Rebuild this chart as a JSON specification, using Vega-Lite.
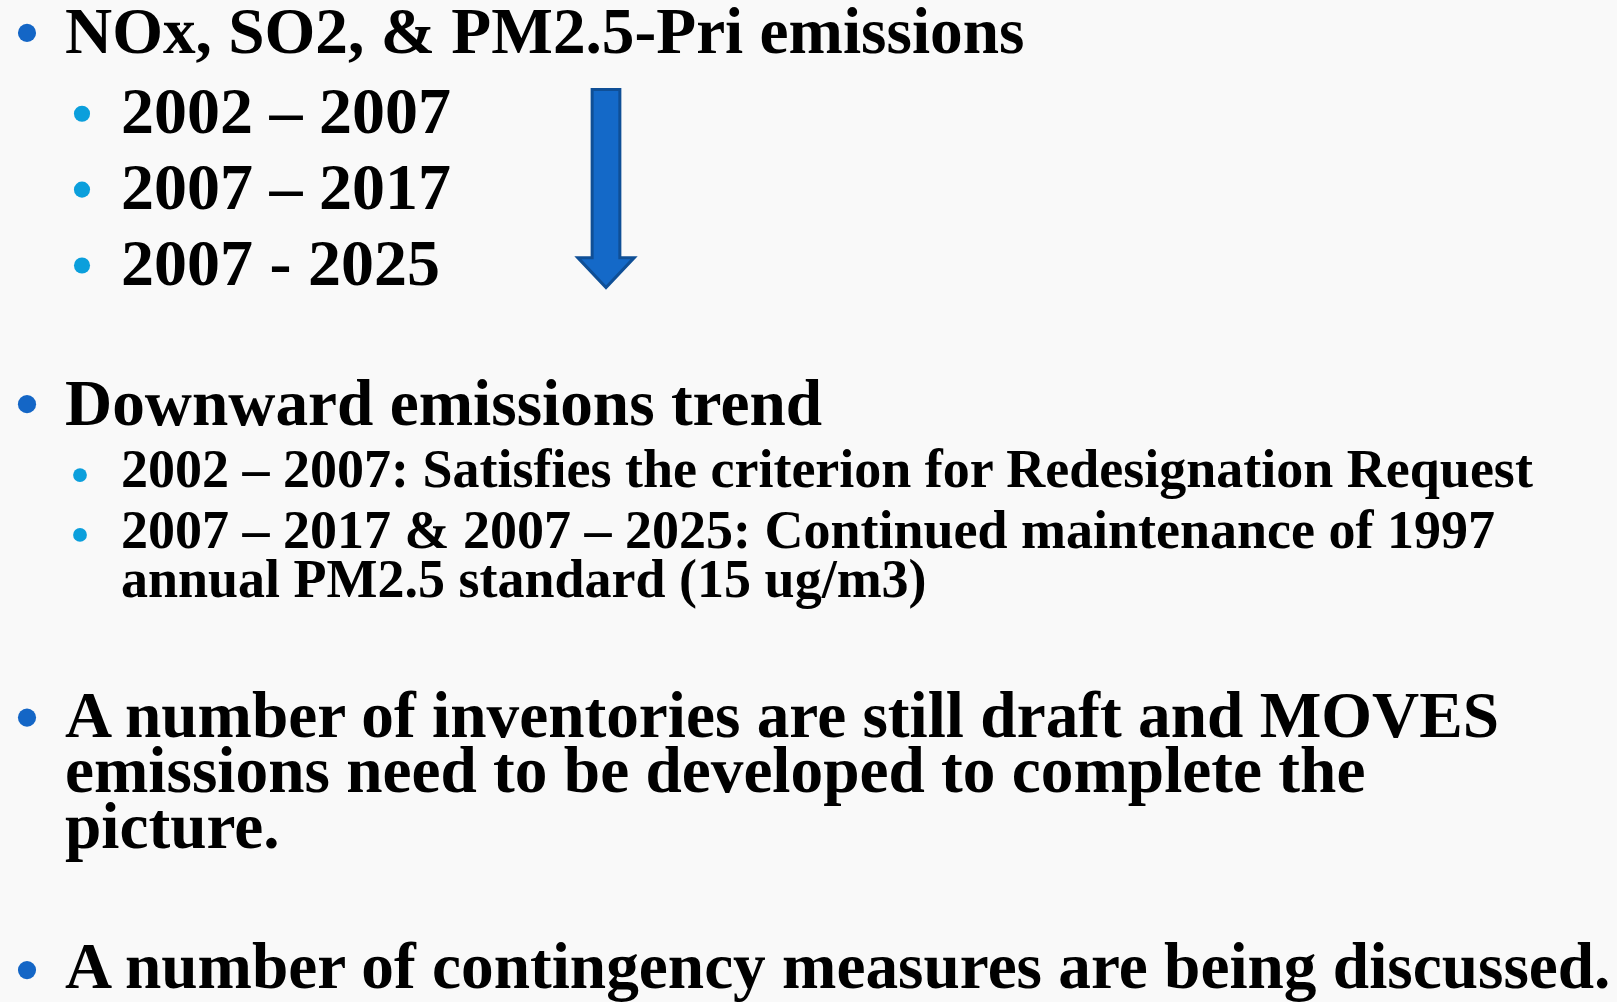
{
  "$schema": "https://vega.github.io/schema/vega-lite/v6.json",
  "autosize": {"type": "fit", "contains": "padding"},
  "width": 1617,
  "height": 1002,
  "padding": 0,
  "background": "#f9f9f9",
  "config": {"view": {"stroke": null}},
  "datasets": {
    "texts": [
      {"x": 65, "y": 53, "level": "title", "label": "NOx, SO2, & PM2.5-Pri emissions"},
      {"x": 121, "y": 133, "level": "year", "label": "2002 – 2007"},
      {"x": 121, "y": 209, "level": "year", "label": "2007 – 2017"},
      {"x": 121, "y": 286, "level": "year", "label": "2007 - 2025"},
      {"x": 65, "y": 426, "level": "title", "label": "Downward emissions trend"},
      {"x": 121, "y": 488, "level": "detail", "label": "2002 – 2007: Satisfies the criterion for Redesignation Request"},
      {"x": 121, "y": 549, "level": "detail", "label": "2007 – 2017 & 2007 – 2025: Continued maintenance of 1997"},
      {"x": 121, "y": 598, "level": "detail", "label": "annual PM2.5 standard (15 ug/m3)"},
      {"x": 65, "y": 738, "level": "title", "label": "A number of inventories are still draft and MOVES"},
      {"x": 65, "y": 794, "level": "title", "label": "emissions need to be developed to complete the"},
      {"x": 65, "y": 850, "level": "title", "label": "picture."},
      {"x": 65, "y": 990, "level": "title", "label": "A number of contingency measures are being discussed."}
    ],
    "bullets": [
      {"x": 27, "y": 33, "level": "main"},
      {"x": 27, "y": 405, "level": "main"},
      {"x": 27, "y": 719, "level": "main"},
      {"x": 27, "y": 972, "level": "main"},
      {"x": 82, "y": 114, "level": "sub"},
      {"x": 82, "y": 190, "level": "sub"},
      {"x": 82, "y": 266, "level": "sub"},
      {"x": 80, "y": 476, "level": "subsmall"},
      {"x": 80, "y": 536, "level": "subsmall"}
    ],
    "arrow": [
      {"x": 606, "y": 189}
    ]
  },
  "encoding": {
    "x": {"field": "x", "type": "quantitative", "scale": {"domain": [0, 1617], "nice": false, "zero": false}, "axis": null},
    "y": {"field": "y", "type": "quantitative", "scale": {"domain": [0, 1002], "nice": false, "zero": false, "reverse": true}, "axis": null}
  },
  "layer": [
    {
      "data": {"name": "arrow"},
      "mark": {"type": "point", "filled": true, "shape": "M-0.14,-1 L0.14,-1 L0.14,0.697 L0.285,0.697 L0,1 L-0.285,0.697 L-0.14,0.697 Z", "size": 39204, "fill": "#1469c8", "stroke": "#0f4f96", "strokeWidth": 3, "opacity": 1, "fillOpacity": 1}
    },
    {
      "data": {"name": "bullets"},
      "transform": [{"filter": "datum.level === 'main'"}],
      "mark": {"type": "point", "filled": true, "shape": "circle", "size": 330, "color": "#1466c6", "opacity": 1}
    },
    {
      "data": {"name": "bullets"},
      "transform": [{"filter": "datum.level === 'sub'"}],
      "mark": {"type": "point", "filled": true, "shape": "circle", "size": 260, "color": "#0b9fdc", "opacity": 1}
    },
    {
      "data": {"name": "bullets"},
      "transform": [{"filter": "datum.level === 'subsmall'"}],
      "mark": {"type": "point", "filled": true, "shape": "circle", "size": 190, "color": "#0b9fdc", "opacity": 1}
    },
    {
      "data": {"name": "texts"},
      "transform": [{"filter": "datum.level === 'title'"}],
      "mark": {"type": "text", "align": "left", "baseline": "alphabetic", "font": "Liberation Serif", "fontWeight": "bold", "fontSize": 65.3, "color": "#000000"},
      "encoding": {"text": {"field": "label"}}
    },
    {
      "data": {"name": "texts"},
      "transform": [{"filter": "datum.level === 'year'"}],
      "mark": {"type": "text", "align": "left", "baseline": "alphabetic", "font": "Liberation Serif", "fontWeight": "bold", "fontSize": 66, "color": "#000000"},
      "encoding": {"text": {"field": "label"}}
    },
    {
      "data": {"name": "texts"},
      "transform": [{"filter": "datum.level === 'detail'"}],
      "mark": {"type": "text", "align": "left", "baseline": "alphabetic", "font": "Liberation Serif", "fontWeight": "bold", "fontSize": 54, "color": "#000000"},
      "encoding": {"text": {"field": "label"}}
    }
  ]
}
